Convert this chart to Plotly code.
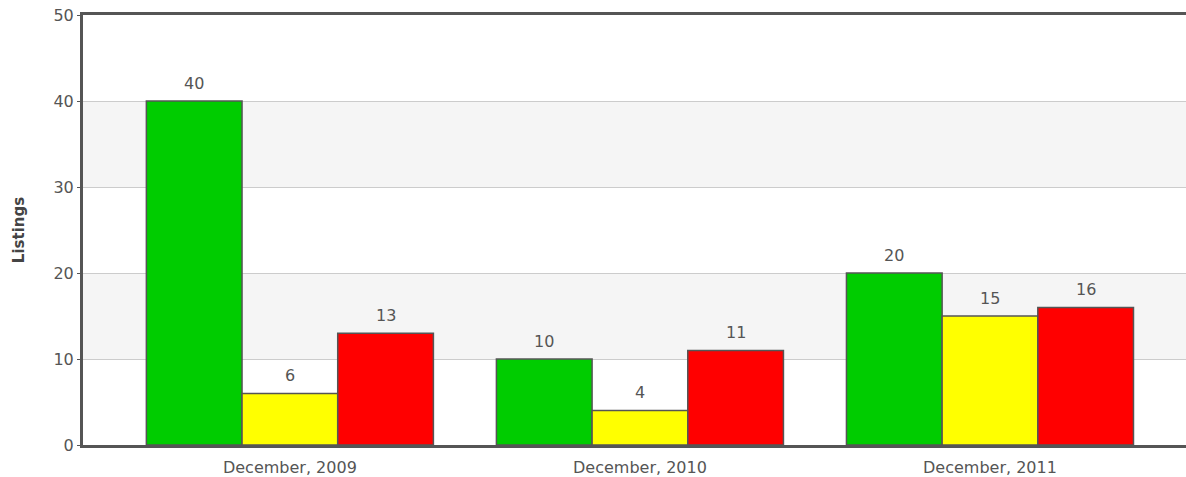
import plotly.graph_objects as go

periods = ["December, 2009", "December, 2010", "December, 2011"]
green_vals = [40, 10, 20]
yellow_vals = [6, 4, 15]
red_vals = [13, 11, 16]
y_ticks = [0, 10, 20, 30, 40, 50]

series = [
    ("Green", green_vals, "#00cc00"),
    ("Yellow", yellow_vals, "#ffff00"),
    ("Red", red_vals, "#ff0000"),
]

W, H = 1186, 477
ML, MR = 83, 0
x_range = [-0.591, 2.56]
bargap = 0.18
# pixel width of one bar, used to place the value labels over each bar
cat_px = (W - ML - MR) / (x_range[1] - x_range[0])
bar_px = cat_px * (1 - bargap) / len(series)

fig = go.Figure()
for i, (name, vals, color) in enumerate(series):
    fig.add_trace(go.Bar(
        name=name,
        x=periods,
        y=vals,
        marker=dict(color=color, line=dict(color="#555555", width=1.5)),
    ))
    for p, v in zip(periods, vals):
        fig.add_annotation(x=p, y=v, text=str(v), showarrow=False,
                           xshift=(i - 1) * bar_px, yshift=18,
                           font=dict(family="DejaVu Sans", size=16, color="#555555"))

# alternating light bands between gridlines
for i in range(1, len(y_ticks) - 1, 2):
    fig.add_shape(type="rect", xref="paper", x0=0, x1=1, yref="y",
                  y0=y_ticks[i], y1=y_ticks[i + 1],
                  fillcolor="#f5f5f5", line_width=0, layer="below")

fig.update_layout(
    width=W, height=H,
    margin=dict(l=ML, r=MR, t=15, b=32),
    plot_bgcolor="white", paper_bgcolor="white",
    showlegend=False,
    barmode="group", bargap=bargap, bargroupgap=0,
    font=dict(family="DejaVu Sans", size=16, color="#555555"),
    xaxis=dict(
        range=x_range,
        showline=True, linecolor="#555555", linewidth=3, mirror=True,
        showgrid=False, ticks="", ticklabelstandoff=6,
        tickfont=dict(size=16, color="#555555"),
    ),
    yaxis=dict(
        range=[0, 50], tickvals=y_ticks, ticklabeloverflow="allow",
        showline=True, linecolor="#555555", linewidth=3,
        showgrid=True, gridcolor="#cccccc", gridwidth=1,
        zeroline=False, ticks="outside", ticklen=3, tickcolor="#555555",
        tickfont=dict(size=16, color="#555555"),
        title=dict(text="<b>Listings</b>", font=dict(size=15, color="#444444"), standoff=26),
    ),
)

fig.write_html(
    "out.html",
    config={"displayModeBar": False},
    post_script="document.body.style.margin='0';document.body.style.overflow='hidden';",
)
